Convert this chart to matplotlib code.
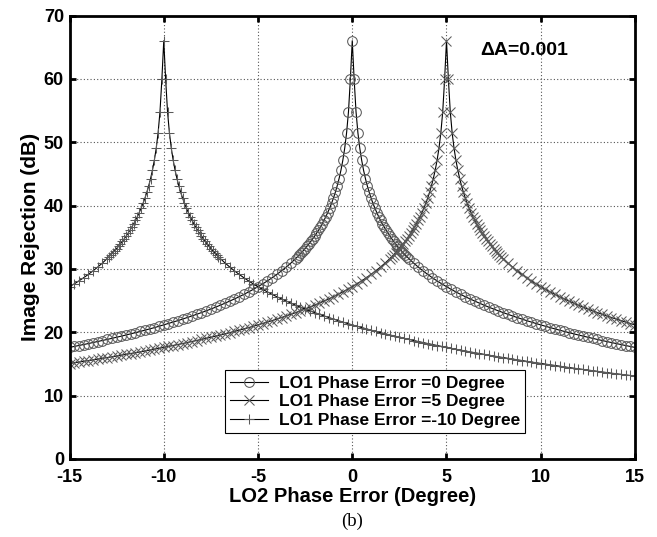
import matplotlib
matplotlib.use("Agg")
import matplotlib.pyplot as plt
import numpy as np

# Image rejection (dB) vs. distance from the peak (degrees)
offset_deg = [0.0, 0.1, 0.2, 0.3, 0.4, 0.5, 0.6, 0.7, 0.8, 0.9, 1.0,
              1.1, 1.2, 1.3, 1.4, 1.5, 1.6, 1.7, 1.8, 1.9, 2.0,
              2.1, 2.2, 2.3, 2.4, 2.5, 2.6, 2.7, 2.8, 2.9, 3.0,
              3.25, 3.5, 3.75, 4.0, 4.25, 4.5, 4.75, 5.0, 5.25, 5.5, 5.75, 6.0,
              6.25, 6.5, 6.75, 7.0, 7.25, 7.5, 7.75, 8.0, 8.25, 8.5, 8.75, 9.0,
              9.25, 9.5, 9.75, 10.0, 10.25, 10.5, 10.75, 11.0, 11.25, 11.5, 11.75, 12.0,
              12.25, 12.5, 12.75, 13.0, 13.25, 13.5, 13.75, 14.0, 14.25, 14.5, 14.75, 15.0,
              15.25, 15.5, 15.75, 16.0, 16.25, 16.5, 16.75, 17.0, 17.25, 17.5, 17.75, 18.0,
              18.25, 18.5, 18.75, 19.0, 19.25, 19.5, 19.75, 20.0, 20.25, 20.5, 20.75, 21.0,
              21.25, 21.5, 21.75, 22.0, 22.25, 22.5, 22.75, 23.0, 23.25, 23.5, 23.75, 24.0,
              24.25, 24.5, 24.75, 25.0]
irr_db = [66.02, 59.95, 54.82, 51.49, 49.05, 47.15, 45.58, 44.25, 43.10, 42.08, 41.17,
          40.34, 39.59, 38.90, 38.25, 37.66, 37.10, 36.57, 36.07, 35.61, 35.16,
          34.74, 34.33, 33.95, 33.58, 33.22, 32.88, 32.55, 32.24, 31.93, 31.64,
          30.94, 30.30, 29.70, 29.14, 28.61, 28.11, 27.64, 27.20, 26.77, 26.37, 25.98, 25.61,
          25.26, 24.92, 24.59, 24.27, 23.96, 23.67, 23.38, 23.11, 22.84, 22.58, 22.33, 22.08,
          21.84, 21.61, 21.38, 21.16, 20.95, 20.73, 20.53, 20.33, 20.13, 19.94, 19.75, 19.57,
          19.39, 19.21, 19.04, 18.87, 18.70, 18.54, 18.38, 18.22, 18.06, 17.91, 17.76, 17.61,
          17.47, 17.32, 17.18, 17.04, 16.91, 16.77, 16.64, 16.51, 16.38, 16.25, 16.13, 16.01,
          15.88, 15.76, 15.64, 15.53, 15.41, 15.30, 15.19, 15.07, 14.96, 14.85, 14.75, 14.64,
          14.54, 14.43, 14.33, 14.23, 14.13, 14.03, 13.93, 13.83, 13.73, 13.64, 13.54, 13.45,
          13.36, 13.27, 13.18, 13.09]

lo1_phase_error = [0, 5, -10]
series_labels = ["LO1 Phase Error =0 Degree",
                 "LO1 Phase Error =5 Degree",
                 "LO1 Phase Error =-10 Degree"]
series_markers = ["o", "x", "+"]
x_ticks = [-15, -10, -5, 0, 5, 10, 15]
y_ticks = [0, 10, 20, 30, 40, 50, 60, 70]

plt.rcParams['font.family'] = ['Liberation Sans', 'DejaVu Sans']

fig = plt.figure(figsize=(6.57, 5.37), dpi=100)
ax = fig.add_axes([0.1058, 0.1453, 0.9665 - 0.1058, 0.9711 - 0.1453])

off = np.array(offset_deg)
irr = np.array(irr_db)
for peak, lab, mk in zip(lo1_phase_error, series_labels, series_markers):
    x = np.concatenate([peak - off[::-1], peak + off[1:]])
    y = np.concatenate([irr[::-1], irr[1:]])
    keep = (x >= -15.0001) & (x <= 15.0001)
    ms = 7 if mk == "o" else 6.5
    ax.plot(x[keep], y[keep], color="black", lw=0.8, marker=mk,
            markersize=ms, markerfacecolor="none", markeredgecolor="#5a5a5a",
            markeredgewidth=0.75, label=lab)

ax.set_xlim(-15, 15)
ax.set_ylim(0, 70)
ax.set_xticks(x_ticks)
ax.set_yticks(y_ticks)
ax.set_xticklabels([str(t) for t in x_ticks], fontsize=13, fontweight="bold")
ax.set_yticklabels([str(t) for t in y_ticks], fontsize=13, fontweight="bold")
ax.grid(True, linestyle=(0, (1, 2)), color="#555555", lw=0.8)
ax.tick_params(direction="in", length=4, width=2, top=True, right=True)
ax.tick_params(axis="x", pad=7)
ax.tick_params(axis="y", pad=4)
for s in ax.spines.values():
    s.set_linewidth(2)

ax.set_xlabel("LO2 Phase Error (Degree)", fontsize=14.5, fontweight="bold", labelpad=1)
ax.set_ylabel("Image Rejection (dB)", fontsize=15, fontweight="bold", labelpad=3)

ax.text(0.804, 0.922, "ΔA=0.001", transform=ax.transAxes, fontsize=14,
        fontweight="bold", ha="center", va="center")

leg = ax.legend(loc="lower left", bbox_to_anchor=(0.275, 0.058),
                prop={"weight": "bold", "size": 12.5}, frameon=True, fancybox=False,
                edgecolor="black", framealpha=1, borderpad=0.3, labelspacing=0.2,
                handlelength=2.2, handletextpad=0.6, borderaxespad=0)
leg.get_frame().set_linewidth(0.8)

fig.text(0.5 * (0.1058 + 0.9665), 0.030, "(b)", fontsize=13.5,
         family=["Liberation Serif", "DejaVu Serif"], ha="center", va="center")

fig.savefig("out.png", dpi=100, facecolor="white")
